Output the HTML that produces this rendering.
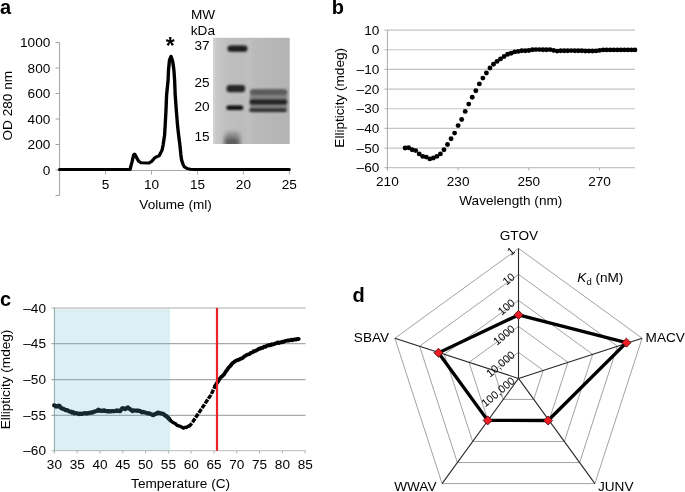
<!DOCTYPE html>
<html><head><meta charset="utf-8"><style>
html,body{margin:0;padding:0;background:#fff;width:685px;height:492px;overflow:hidden;}
svg{display:block;will-change:transform;}
text{font-family:"Liberation Sans",sans-serif;fill:#000;}
</style></head><body>
<svg width="685" height="492" viewBox="0 0 685 492">
<rect width="685" height="492" fill="#fff"/>
<text x="0.00" y="14.00" font-size="20" text-anchor="start" font-weight="bold">a</text>
<line x1="59.6" y1="42.5" x2="59.6" y2="195.5" stroke="#a0a0a0" stroke-width="1"/>
<line x1="55.5" y1="42.50" x2="59.6" y2="42.50" stroke="#a0a0a0" stroke-width="1"/>
<text x="50.30" y="47.30" font-size="13.6" text-anchor="end">1000</text>
<line x1="55.5" y1="68.00" x2="59.6" y2="68.00" stroke="#a0a0a0" stroke-width="1"/>
<text x="50.30" y="72.80" font-size="13.6" text-anchor="end">800</text>
<line x1="55.5" y1="93.50" x2="59.6" y2="93.50" stroke="#a0a0a0" stroke-width="1"/>
<text x="50.30" y="98.30" font-size="13.6" text-anchor="end">600</text>
<line x1="55.5" y1="119.00" x2="59.6" y2="119.00" stroke="#a0a0a0" stroke-width="1"/>
<text x="50.30" y="123.80" font-size="13.6" text-anchor="end">400</text>
<line x1="55.5" y1="144.50" x2="59.6" y2="144.50" stroke="#a0a0a0" stroke-width="1"/>
<text x="50.30" y="149.30" font-size="13.6" text-anchor="end">200</text>
<line x1="55.5" y1="170.00" x2="59.6" y2="170.00" stroke="#a0a0a0" stroke-width="1"/>
<text x="50.30" y="174.80" font-size="13.6" text-anchor="end">0</text>
<line x1="55.5" y1="195.50" x2="59.6" y2="195.50" stroke="#a0a0a0" stroke-width="1"/>
<line x1="59.6" y1="170.5" x2="289.5" y2="170.5" stroke="#a8a8a8" stroke-width="1"/>
<line x1="105.55" y1="170.5" x2="105.55" y2="174.5" stroke="#a8a8a8" stroke-width="1"/>
<text x="105.55" y="189.40" font-size="13.6" text-anchor="middle">5</text>
<line x1="151.50" y1="170.5" x2="151.50" y2="174.5" stroke="#a8a8a8" stroke-width="1"/>
<text x="151.50" y="189.40" font-size="13.6" text-anchor="middle">10</text>
<line x1="197.45" y1="170.5" x2="197.45" y2="174.5" stroke="#a8a8a8" stroke-width="1"/>
<text x="197.45" y="189.40" font-size="13.6" text-anchor="middle">15</text>
<line x1="243.40" y1="170.5" x2="243.40" y2="174.5" stroke="#a8a8a8" stroke-width="1"/>
<text x="243.40" y="189.40" font-size="13.6" text-anchor="middle">20</text>
<line x1="289.35" y1="170.5" x2="289.35" y2="174.5" stroke="#a8a8a8" stroke-width="1"/>
<text x="289.35" y="189.40" font-size="13.6" text-anchor="middle">25</text>
<text x="175.60" y="209.00" font-size="13.6" text-anchor="middle">Volume (ml)</text>
<text transform="translate(12,105.7) rotate(-90)" font-size="13.6" text-anchor="middle">OD 280 nm</text>
<g transform="translate(59.6,0) scale(1.12,1)"><polyline fill="none" stroke="#000" stroke-width="3.0" stroke-linejoin="round" stroke-linecap="round" points="0.000,169.6 62.857,169.6 64.643,162 66.071,155 66.964,154 68.214,156.5 70.625,161.3 72.679,162.8 79.821,163 82.054,161.5 85.179,157.6 86.964,156.6 88.839,155.8 90.179,153 91.518,150 92.411,145 93.750,135 94.286,125 95.000,110 95.536,95 96.875,80 97.232,70 98.125,60 99.464,56.3 100.893,61 102.054,70 102.679,80 103.214,95 104.196,110 105.268,125 106.250,135 107.411,145 108.304,155 108.929,160 110.089,164 111.429,167 114.196,168.6 116.875,169.3 120.893,169.6 205.000,169.6"/></g>
<text x="170.35" y="54.00" font-size="23" text-anchor="middle" font-weight="bold">*</text>
<text x="191.00" y="19.00" font-size="13.6" text-anchor="start">MW</text>
<text x="190.80" y="35.20" font-size="13.6" text-anchor="start">kDa</text>
<text x="209.50" y="50.10" font-size="13.6" text-anchor="end">37</text>
<text x="209.50" y="86.80" font-size="13.6" text-anchor="end">25</text>
<text x="209.50" y="110.80" font-size="13.6" text-anchor="end">20</text>
<text x="209.50" y="141.10" font-size="13.6" text-anchor="end">15</text>
<defs>
<filter id="bl1" x="-50%" y="-50%" width="200%" height="200%"><feGaussianBlur stdDeviation="1.1"/></filter>
<filter id="bl2" x="-50%" y="-50%" width="200%" height="200%"><feGaussianBlur stdDeviation="2"/></filter>
<linearGradient id="gelg" x1="0" y1="0" x2="1" y2="0">
<stop offset="0" stop-color="#d6d6d6"/><stop offset="0.04" stop-color="#c8c8c8"/><stop offset="0.2" stop-color="#bfbfbf"/><stop offset="0.5" stop-color="#bababa"/><stop offset="1" stop-color="#b3b3b3"/></linearGradient>
<clipPath id="gelclip"><rect x="213" y="37.8" width="76.7" height="106.2"/></clipPath>
</defs>
<rect x="213" y="37.8" width="76.7" height="106.2" fill="url(#gelg)"/>
<g clip-path="url(#gelclip)">
<rect x="246" y="37" width="6" height="108" fill="#c4c4c4" opacity="0.6" filter="url(#bl2)"/>
<rect x="227.5" y="45.6" width="20" height="6.2" rx="3" fill="#1c1c1c" filter="url(#bl1)"/>
<rect x="226.5" y="85" width="18.6" height="7.2" rx="3.2" fill="#262626" filter="url(#bl1)"/>
<rect x="226.3" y="105.4" width="17" height="4.6" rx="2.3" fill="#080808" filter="url(#bl1)"/>
<rect x="224.5" y="132" width="15.5" height="16" rx="4" fill="#8e8e8e" filter="url(#bl2)"/>
<rect x="225" y="138" width="14" height="9" rx="3" fill="#5c5c5c" filter="url(#bl2)"/>
<rect x="250" y="89" width="37" height="23" rx="3" fill="#828282" filter="url(#bl1)"/>
<rect x="250.5" y="89.8" width="36.5" height="5" rx="2.3" fill="#5a5a5a" filter="url(#bl1)"/>
<rect x="249.6" y="99.4" width="37.6" height="5.0" rx="2.4" fill="#222" filter="url(#bl1)"/>
<rect x="249.3" y="108.6" width="37.2" height="3.2" rx="1.6" fill="#2c2c2c" filter="url(#bl1)"/>
</g>
<text x="331.70" y="14.00" font-size="20" text-anchor="start" font-weight="bold">b</text>
<line x1="384.3" y1="30.09" x2="635" y2="30.09" stroke="#c4c4c4" stroke-width="1.2"/>
<text x="379.30" y="34.69" font-size="13.6" text-anchor="end">10</text>
<line x1="384.3" y1="49.75" x2="635" y2="49.75" stroke="#c4c4c4" stroke-width="1.2"/>
<text x="379.30" y="54.35" font-size="13.6" text-anchor="end">0</text>
<line x1="384.3" y1="69.41" x2="635" y2="69.41" stroke="#c4c4c4" stroke-width="1.2"/>
<text x="379.30" y="74.01" font-size="13.6" text-anchor="end">–10</text>
<line x1="384.3" y1="89.07" x2="635" y2="89.07" stroke="#c4c4c4" stroke-width="1.2"/>
<text x="379.30" y="93.67" font-size="13.6" text-anchor="end">–20</text>
<line x1="384.3" y1="108.73" x2="635" y2="108.73" stroke="#c4c4c4" stroke-width="1.2"/>
<text x="379.30" y="113.33" font-size="13.6" text-anchor="end">–30</text>
<line x1="384.3" y1="128.39" x2="635" y2="128.39" stroke="#c4c4c4" stroke-width="1.2"/>
<text x="379.30" y="132.99" font-size="13.6" text-anchor="end">–40</text>
<line x1="384.3" y1="148.05" x2="635" y2="148.05" stroke="#c4c4c4" stroke-width="1.2"/>
<text x="379.30" y="152.65" font-size="13.6" text-anchor="end">–50</text>
<line x1="384.3" y1="167.71" x2="635" y2="167.71" stroke="#c4c4c4" stroke-width="1.2"/>
<text x="379.30" y="172.31" font-size="13.6" text-anchor="end">–60</text>
<line x1="387.4" y1="30.1" x2="387.4" y2="170.5" stroke="#a8a8a8" stroke-width="1"/>
<line x1="387.40" y1="167.5" x2="387.40" y2="170.5" stroke="#a8a8a8" stroke-width="1"/>
<text x="387.40" y="186.00" font-size="13.6" text-anchor="middle">210</text>
<line x1="458.12" y1="167.5" x2="458.12" y2="170.5" stroke="#a8a8a8" stroke-width="1"/>
<text x="458.12" y="186.00" font-size="13.6" text-anchor="middle">230</text>
<line x1="528.84" y1="167.5" x2="528.84" y2="170.5" stroke="#a8a8a8" stroke-width="1"/>
<text x="528.84" y="186.00" font-size="13.6" text-anchor="middle">250</text>
<line x1="599.56" y1="167.5" x2="599.56" y2="170.5" stroke="#a8a8a8" stroke-width="1"/>
<text x="599.56" y="186.00" font-size="13.6" text-anchor="middle">270</text>
<text x="510.80" y="205.40" font-size="13.6" text-anchor="middle">Wavelength (nm)</text>
<text transform="translate(344,97.8) rotate(-90)" font-size="13.6" text-anchor="middle">Ellipticity (mdeg)</text>
<circle cx="405.08" cy="148.00" r="2.45" fill="#000"/>
<circle cx="408.62" cy="147.80" r="2.45" fill="#000"/>
<circle cx="412.15" cy="149.80" r="2.45" fill="#000"/>
<circle cx="415.69" cy="150.60" r="2.45" fill="#000"/>
<circle cx="419.22" cy="153.90" r="2.45" fill="#000"/>
<circle cx="422.76" cy="156.40" r="2.45" fill="#000"/>
<circle cx="426.30" cy="157.10" r="2.45" fill="#000"/>
<circle cx="429.83" cy="158.90" r="2.45" fill="#000"/>
<circle cx="433.37" cy="158.00" r="2.45" fill="#000"/>
<circle cx="436.90" cy="156.40" r="2.45" fill="#000"/>
<circle cx="440.44" cy="153.90" r="2.45" fill="#000"/>
<circle cx="443.98" cy="149.80" r="2.45" fill="#000"/>
<circle cx="447.51" cy="144.50" r="2.45" fill="#000"/>
<circle cx="451.05" cy="138.70" r="2.45" fill="#000"/>
<circle cx="454.58" cy="133.10" r="2.45" fill="#000"/>
<circle cx="458.12" cy="125.60" r="2.45" fill="#000"/>
<circle cx="461.66" cy="119.50" r="2.45" fill="#000"/>
<circle cx="465.19" cy="111.40" r="2.45" fill="#000"/>
<circle cx="468.73" cy="104.10" r="2.45" fill="#000"/>
<circle cx="472.26" cy="97.30" r="2.45" fill="#000"/>
<circle cx="475.80" cy="90.70" r="2.45" fill="#000"/>
<circle cx="479.34" cy="83.90" r="2.45" fill="#000"/>
<circle cx="482.87" cy="78.10" r="2.45" fill="#000"/>
<circle cx="486.41" cy="73.00" r="2.45" fill="#000"/>
<circle cx="489.94" cy="68.00" r="2.45" fill="#000"/>
<circle cx="493.48" cy="64.30" r="2.45" fill="#000"/>
<circle cx="497.02" cy="61.40" r="2.45" fill="#000"/>
<circle cx="500.55" cy="58.90" r="2.45" fill="#000"/>
<circle cx="504.09" cy="56.50" r="2.45" fill="#000"/>
<circle cx="507.62" cy="54.30" r="2.45" fill="#000"/>
<circle cx="511.16" cy="53.20" r="2.45" fill="#000"/>
<circle cx="514.70" cy="51.90" r="2.45" fill="#000"/>
<circle cx="518.23" cy="51.40" r="2.45" fill="#000"/>
<circle cx="521.77" cy="50.80" r="2.45" fill="#000"/>
<circle cx="525.30" cy="50.70" r="2.45" fill="#000"/>
<circle cx="528.84" cy="50.50" r="2.45" fill="#000"/>
<circle cx="532.38" cy="49.80" r="2.45" fill="#000"/>
<circle cx="535.91" cy="49.60" r="2.45" fill="#000"/>
<circle cx="539.45" cy="49.60" r="2.45" fill="#000"/>
<circle cx="542.98" cy="49.80" r="2.45" fill="#000"/>
<circle cx="546.52" cy="49.70" r="2.45" fill="#000"/>
<circle cx="550.06" cy="49.60" r="2.45" fill="#000"/>
<circle cx="553.59" cy="50.40" r="2.45" fill="#000"/>
<circle cx="557.13" cy="51.10" r="2.45" fill="#000"/>
<circle cx="560.66" cy="50.70" r="2.45" fill="#000"/>
<circle cx="564.20" cy="50.70" r="2.45" fill="#000"/>
<circle cx="567.74" cy="50.70" r="2.45" fill="#000"/>
<circle cx="571.27" cy="50.60" r="2.45" fill="#000"/>
<circle cx="574.81" cy="50.70" r="2.45" fill="#000"/>
<circle cx="578.34" cy="50.70" r="2.45" fill="#000"/>
<circle cx="581.88" cy="50.80" r="2.45" fill="#000"/>
<circle cx="585.42" cy="51.00" r="2.45" fill="#000"/>
<circle cx="588.95" cy="51.00" r="2.45" fill="#000"/>
<circle cx="592.49" cy="51.00" r="2.45" fill="#000"/>
<circle cx="596.02" cy="50.90" r="2.45" fill="#000"/>
<circle cx="599.56" cy="50.40" r="2.45" fill="#000"/>
<circle cx="603.10" cy="49.90" r="2.45" fill="#000"/>
<circle cx="606.63" cy="49.90" r="2.45" fill="#000"/>
<circle cx="610.17" cy="49.90" r="2.45" fill="#000"/>
<circle cx="613.70" cy="49.90" r="2.45" fill="#000"/>
<circle cx="617.24" cy="49.90" r="2.45" fill="#000"/>
<circle cx="620.78" cy="49.90" r="2.45" fill="#000"/>
<circle cx="624.31" cy="49.90" r="2.45" fill="#000"/>
<circle cx="627.85" cy="49.90" r="2.45" fill="#000"/>
<circle cx="631.38" cy="49.90" r="2.45" fill="#000"/>
<circle cx="634.92" cy="49.90" r="2.45" fill="#000"/>
<text x="0.00" y="306.20" font-size="20" text-anchor="start" font-weight="bold">c</text>
<line x1="51.4" y1="307.95" x2="305.5" y2="307.95" stroke="#d6d6d6" stroke-width="2"/>
<text x="46.00" y="312.55" font-size="13.6" text-anchor="end">–40</text>
<line x1="51.4" y1="343.6" x2="305.5" y2="343.6" stroke="#a8a8a8" stroke-width="1.2"/>
<text x="46.00" y="348.20" font-size="13.6" text-anchor="end">–45</text>
<line x1="51.4" y1="379.6" x2="305.5" y2="379.6" stroke="#a8a8a8" stroke-width="1.2"/>
<text x="46.00" y="384.20" font-size="13.6" text-anchor="end">–50</text>
<line x1="51.4" y1="415.3" x2="305.5" y2="415.3" stroke="#a8a8a8" stroke-width="1.2"/>
<text x="46.00" y="419.90" font-size="13.6" text-anchor="end">–55</text>
<line x1="51.4" y1="450.7" x2="305.5" y2="450.7" stroke="#c8c8c8" stroke-width="1.2"/>
<text x="46.00" y="455.30" font-size="13.6" text-anchor="end">–60</text>
<line x1="54.4" y1="307.9" x2="54.4" y2="453" stroke="#a0a0a0" stroke-width="1"/>
<line x1="54.40" y1="451" x2="54.40" y2="453.5" stroke="#b0b0b0" stroke-width="1"/>
<text x="54.40" y="469.20" font-size="13.6" text-anchor="middle">30</text>
<line x1="77.20" y1="451" x2="77.20" y2="453.5" stroke="#b0b0b0" stroke-width="1"/>
<text x="77.20" y="469.20" font-size="13.6" text-anchor="middle">35</text>
<line x1="100.00" y1="451" x2="100.00" y2="453.5" stroke="#b0b0b0" stroke-width="1"/>
<text x="100.00" y="469.20" font-size="13.6" text-anchor="middle">40</text>
<line x1="122.80" y1="451" x2="122.80" y2="453.5" stroke="#b0b0b0" stroke-width="1"/>
<text x="122.80" y="469.20" font-size="13.6" text-anchor="middle">45</text>
<line x1="145.60" y1="451" x2="145.60" y2="453.5" stroke="#b0b0b0" stroke-width="1"/>
<text x="145.60" y="469.20" font-size="13.6" text-anchor="middle">50</text>
<line x1="168.40" y1="451" x2="168.40" y2="453.5" stroke="#b0b0b0" stroke-width="1"/>
<text x="168.40" y="469.20" font-size="13.6" text-anchor="middle">55</text>
<line x1="191.20" y1="451" x2="191.20" y2="453.5" stroke="#b0b0b0" stroke-width="1"/>
<text x="191.20" y="469.20" font-size="13.6" text-anchor="middle">60</text>
<line x1="214.00" y1="451" x2="214.00" y2="453.5" stroke="#b0b0b0" stroke-width="1"/>
<text x="214.00" y="469.20" font-size="13.6" text-anchor="middle">65</text>
<line x1="236.80" y1="451" x2="236.80" y2="453.5" stroke="#b0b0b0" stroke-width="1"/>
<text x="236.80" y="469.20" font-size="13.6" text-anchor="middle">70</text>
<line x1="259.60" y1="451" x2="259.60" y2="453.5" stroke="#b0b0b0" stroke-width="1"/>
<text x="259.60" y="469.20" font-size="13.6" text-anchor="middle">75</text>
<line x1="282.40" y1="451" x2="282.40" y2="453.5" stroke="#b0b0b0" stroke-width="1"/>
<text x="282.40" y="469.20" font-size="13.6" text-anchor="middle">80</text>
<line x1="305.20" y1="451" x2="305.20" y2="453.5" stroke="#b0b0b0" stroke-width="1"/>
<text x="305.20" y="469.20" font-size="13.6" text-anchor="middle">85</text>
<text x="180.60" y="488.40" font-size="13.6" text-anchor="middle">Temperature (C)</text>
<text transform="translate(10.4,379.5) rotate(-90)" font-size="13.6" text-anchor="middle">Ellipticity (mdeg)</text>
<polyline fill="none" stroke="#000" stroke-width="4.2" stroke-linejoin="round" stroke-linecap="round" points="54.2,405.34 55.1,405.64 56.0,406.54 56.9,406.14 57.8,406.43 58.7,405.68 59.6,406.01 60.5,407.63 61.4,408.03 62.3,408.73 63.2,408.74 64.1,409.09 65.0,409.73 65.9,410.36 66.8,410.00 67.7,410.36 68.6,410.99 69.5,411.55 70.4,411.54 71.3,411.75 72.2,412.65 73.1,412.19 74.0,413.30 74.9,413.17 75.8,413.16 76.7,413.23 77.6,413.49 78.5,414.03 79.4,413.55 80.3,413.96 81.2,413.95 82.1,413.66 83.0,413.76 83.9,413.27 84.8,413.22 85.7,413.24 86.6,413.54 87.5,413.18 88.4,412.96 89.3,413.08 90.2,412.81 91.1,412.43 92.0,412.64 92.9,412.33 93.8,411.68 94.7,411.74 95.6,411.26 96.5,411.04 97.4,410.37 98.3,409.76 99.2,410.83 100.1,410.46 101.0,410.73 101.9,411.03 102.8,410.49 103.7,410.79 104.6,410.39 105.5,411.00 106.4,411.18 107.3,411.10 108.2,411.46 109.1,411.04 110.0,411.48 110.9,411.29 111.8,411.19 112.7,410.99 113.6,411.25 114.5,411.25 115.4,410.78 116.3,410.95 117.2,410.40 118.1,410.98 119.0,410.93 119.9,411.24 120.8,410.23 121.7,408.77 122.6,408.05 123.5,408.73 124.4,408.58 125.3,409.12 126.2,408.40 127.1,407.91 128.0,407.40 128.9,408.72 129.8,408.82 130.7,409.60 131.6,410.40 132.5,411.08 133.4,410.28 134.3,410.52 135.2,410.52 136.1,410.74 137.0,410.59 137.9,410.92 138.8,410.68 139.7,411.09 140.6,411.32 141.5,412.09 142.4,412.41 143.3,411.91 144.2,412.16 145.1,412.43 146.0,412.66 146.9,413.11 147.8,413.43 148.7,413.40 149.6,413.43 150.5,414.08 151.4,414.30 152.3,414.75 153.2,415.22 154.1,414.61 155.0,414.08 155.9,413.80 156.8,413.48 157.7,412.54 158.6,412.93 159.5,412.84 160.4,413.26 161.3,413.53 162.2,413.50 163.1,413.89 164.0,414.32 164.9,415.49 165.8,415.68 166.7,416.38 167.6,417.34 168.5,418.20 169.4,419.26"/>
<polyline fill="none" stroke="#000" stroke-width="3.6" stroke-linejoin="round" stroke-linecap="round" points="166.0,416.05 166.9,416.72 167.8,417.66 168.7,418.54 169.6,419.55 170.5,420.34"/>
<polyline fill="none" stroke="#000" stroke-width="3.3" stroke-linejoin="round" stroke-linecap="round" points="170.0,420.22 170.9,421.01 171.8,421.68 172.7,422.30 173.6,422.81 174.5,423.27 175.4,423.64 176.3,424.68 177.2,425.36 178.1,425.62 179.0,426.03 179.9,426.18 180.8,426.58 181.7,427.12 182.6,427.47 183.5,428.20 184.4,427.54 185.3,427.20 186.2,427.50 187.1,426.97 188.0,426.29 188.9,426.08"/>
<polyline fill="none" stroke="#000" stroke-width="3.4" stroke-linejoin="miter" stroke-linecap="butt" stroke-dasharray="4.6 1.1" points="188.5,426.25 190.0,425.50 193.0,421.50 196.0,417.00 199.0,412.60 202.0,408.30 205.0,403.60 208.0,399.20 211.0,394.80 214.0,388.50 217.0,382.50"/>
<polyline fill="none" stroke="#000" stroke-width="3.8" stroke-linejoin="round" stroke-linecap="round" points="215.0,386.07 215.9,384.73 216.8,383.33 217.7,381.89 218.6,380.54 219.5,378.95 220.4,377.95 221.3,376.80 222.2,376.37 223.1,375.18 224.0,374.43 224.9,373.05 225.8,371.49 226.7,370.49 227.6,369.12 228.5,367.80 229.4,366.82 230.3,365.89 231.2,364.89 232.1,363.49 233.0,362.82 233.9,362.15 234.8,361.33 235.7,360.81 236.6,360.51 237.5,359.97 238.4,359.87 239.3,359.64 240.2,358.72 241.1,358.70 242.0,358.28 242.9,357.79 243.8,356.80 244.7,356.20 245.6,355.69 246.5,355.13 247.4,354.59 248.3,354.43 249.2,354.14 250.1,353.56 251.0,352.78 251.9,352.49 252.8,352.17 253.7,351.08 254.6,351.14 255.5,350.92 256.4,350.35 257.3,349.88 258.2,349.20 259.1,348.57 260.0,348.76 260.9,347.99 261.8,348.05 262.7,347.84 263.6,346.97 264.5,346.61 265.4,346.78 266.3,346.31 267.2,345.54 268.1,345.23 269.0,344.99 269.9,345.39 270.8,345.06 271.7,344.21 272.6,344.58 273.5,344.47 274.4,343.93 275.3,343.41 276.2,343.34 277.1,342.72 278.0,342.36 278.9,343.02 279.8,342.52 280.7,342.21 281.6,342.37 282.5,341.71 283.4,341.90 284.3,341.65 285.2,340.91 286.1,340.79 287.0,340.67 287.9,340.47 288.8,340.63 289.7,340.18 290.6,340.17 291.5,339.75 292.4,340.29 293.3,339.61 294.2,339.52 295.1,339.46 296.0,339.56 296.9,338.95 297.8,339.22 298.7,338.87"/>
<rect x="53.9" y="308.9" width="116.1" height="142.1" fill="rgb(91,182,205)" fill-opacity="0.22"/>
<line x1="217" y1="307.9" x2="217" y2="450.8" stroke="#ec2229" stroke-width="2.2"/>
<text x="352.40" y="302.20" font-size="20" text-anchor="start" font-weight="bold">d</text>
<polygon fill="none" stroke="#8a8a8a" stroke-width="0.8" points="518.50,352.40 543.23,370.37 533.78,399.43 503.22,399.43 493.77,370.37"/>
<polygon fill="none" stroke="#8a8a8a" stroke-width="0.8" points="518.50,326.40 567.95,362.33 549.06,420.47 487.94,420.47 469.05,362.33"/>
<polygon fill="none" stroke="#8a8a8a" stroke-width="0.8" points="518.50,300.40 592.68,354.30 564.35,441.50 472.65,441.50 444.32,354.30"/>
<polygon fill="none" stroke="#8a8a8a" stroke-width="0.8" points="518.50,274.40 617.41,346.26 579.63,462.54 457.37,462.54 419.59,346.26"/>
<polygon fill="none" stroke="#8a8a8a" stroke-width="0.8" points="518.50,248.40 642.14,338.23 594.91,483.57 442.09,483.57 394.86,338.23"/>
<line x1="518.5" y1="378.4" x2="518.50" y2="248.40" stroke="#262626" stroke-width="1.1"/>
<line x1="518.5" y1="378.4" x2="642.14" y2="338.23" stroke="#262626" stroke-width="1.1"/>
<line x1="518.5" y1="378.4" x2="594.91" y2="483.57" stroke="#262626" stroke-width="1.1"/>
<line x1="518.5" y1="378.4" x2="442.09" y2="483.57" stroke="#262626" stroke-width="1.1"/>
<line x1="518.5" y1="378.4" x2="394.86" y2="338.23" stroke="#262626" stroke-width="1.1"/>
<text transform="translate(515.80,252.00) rotate(-40)" font-size="11" text-anchor="end">1</text>
<text transform="translate(515.80,278.00) rotate(-40)" font-size="11" text-anchor="end">10</text>
<text transform="translate(515.80,304.00) rotate(-40)" font-size="11" text-anchor="end">100</text>
<text transform="translate(515.80,330.00) rotate(-40)" font-size="11" text-anchor="end">1000</text>
<text transform="translate(515.80,356.00) rotate(-40)" font-size="11" text-anchor="end">10,000</text>
<text transform="translate(515.80,382.00) rotate(-40)" font-size="11" text-anchor="end">100,000</text>
<text x="518.90" y="240.40" font-size="13.6" text-anchor="middle">GTOV</text>
<text x="645.60" y="341.50" font-size="13.6" text-anchor="start">MACV</text>
<text x="389.10" y="341.50" font-size="13.6" text-anchor="end">SBAV</text>
<text x="394.20" y="491.30" font-size="13.6" text-anchor="start">WWAV</text>
<text x="598.00" y="491.30" font-size="13.6" text-anchor="start">JUNV</text>
<text x="577.3" y="281.6" font-size="13.6"><tspan font-style="italic">K</tspan><tspan font-size="9.5" dy="3.4">d</tspan><tspan dy="-3.4"> (nM)</tspan></text>
<polygon fill="none" stroke="#000" stroke-width="3.3" stroke-linejoin="miter" points="518.50,314.90 626.40,342.70 548.10,420.50 487.70,420.40 438.50,352.80"/>
<rect x="515.30" y="311.70" width="6.4" height="6.4" transform="rotate(45 518.50 314.90)" fill="#ec1c24" stroke="#4a0a0a" stroke-width="0.8"/>
<rect x="623.20" y="339.50" width="6.4" height="6.4" transform="rotate(45 626.40 342.70)" fill="#ec1c24" stroke="#4a0a0a" stroke-width="0.8"/>
<rect x="544.90" y="417.30" width="6.4" height="6.4" transform="rotate(45 548.10 420.50)" fill="#ec1c24" stroke="#4a0a0a" stroke-width="0.8"/>
<rect x="484.50" y="417.20" width="6.4" height="6.4" transform="rotate(45 487.70 420.40)" fill="#ec1c24" stroke="#4a0a0a" stroke-width="0.8"/>
<rect x="435.30" y="349.60" width="6.4" height="6.4" transform="rotate(45 438.50 352.80)" fill="#ec1c24" stroke="#4a0a0a" stroke-width="0.8"/>
</svg>
</body></html>
